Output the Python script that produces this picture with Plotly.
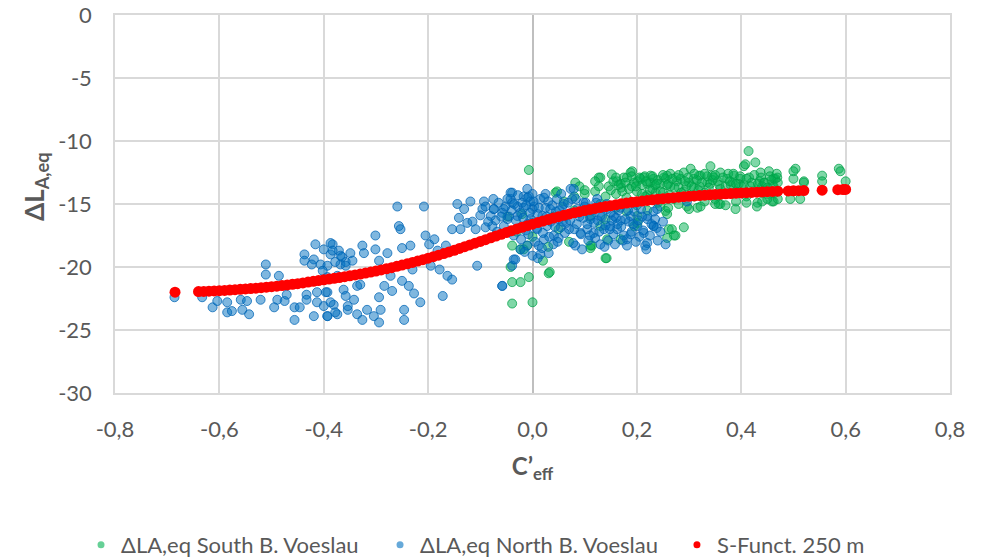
import plotly.graph_objects as go

# ---------------- data ----------------
south_x = [-0.007, 0.0, -0.023, -0.007, 0.033, 0.044, 0.111, 0.142, 0.13, 0.127, 0.146, 0.162, 0.169, 0.191,
           0.181, 0.201, 0.213, 0.22, 0.232, 0.245, 0.252, 0.264, 0.277, 0.29, 0.303, 0.309, 0.322, 0.341,
           0.347, 0.36, 0.373, 0.386, 0.405, 0.414, 0.427, 0.437, 0.453, 0.462, 0.469, 0.504, 0.5, 0.52,
           0.555, 0.555, 0.587, 0.59, 0.6, 0.513, 0.494, 0.462, 0.389, 0.36, 0.316, 0.296, 0.258, 0.255,
           0.29, 0.258, 0.267, 0.274, 0.201, 0.201, 0.169, 0.143, 0.114, -0.023, -0.01,
           -0.039, -0.042, -0.039, 0.031, 0.047, 0.111, 0.14, 0.127, 0.152, 0.082, 0.13, 0.188, 0.226,
           0.195, -0.017, -0.039, -0.048,
           0.207, 0.226, 0.236, 0.258, 0.264, 0.284, 0.309, 0.319, 0.322, 0.335, 0.344, 0.357, 0.383,
           0.398, 0.408, 0.431, 0.443, 0.459, 0.465, 0.5, 0.52, 0.261, 0.271, 0.245, 0.216,
           0.15, 0.16, 0.17, 0.18, 0.19, 0.2, 0.21, 0.22, 0.23, 0.24, 0.25, 0.26, 0.27, 0.28, 0.29, 0.3,
           0.31, 0.32, 0.33, 0.34, 0.35, 0.36, 0.37, 0.38, 0.39, 0.4, 0.41, 0.42, 0.43, 0.44, 0.45, 0.46, 0.465,
           0.155, 0.175, 0.195, 0.215, 0.235, 0.255, 0.275, 0.295, 0.315, 0.335, 0.355, 0.375, 0.395,
           0.415, 0.435, 0.455,
           0.16, 0.2, 0.24, 0.28, 0.33, 0.37, 0.41, 0.45, 0.22, 0.3, 0.43,
           0.06, 0.08, 0.1, 0.12, 0.09, 0.14, 0.11, 0.13, 0.05, 0.07, 0.02, 0.0, -0.03, 0.04, -0.02, 0.03,
           0.16, 0.165, 0.172, 0.178, 0.185, 0.19, 0.198, 0.205, 0.21, 0.218, 0.225, 0.23, 0.238, 0.245,
           0.25, 0.258, 0.262, 0.268, 0.272, 0.28, 0.285, 0.292, 0.298, 0.305, 0.31, 0.318, 0.325, 0.33,
           0.338, 0.345, 0.35, 0.358, 0.365, 0.37, 0.378, 0.385, 0.39, 0.398, 0.405, 0.41, 0.418, 0.425,
           0.432, 0.438, 0.445, 0.45, 0.458, 0.462, 0.468, 0.47,
           0.18, 0.26, 0.35, 0.39, 0.44, 0.47, 0.14, 0.12, 0.1, 0.08]
south_y = [-12.3, -22.8, -21.2, -20.8, -20.4, -14.1, -18.5, -19.3, -12.9, -13.6, -13.6, -13.2, -13.4, -12.4,
           -12.9, -13.2, -12.9, -13.4, -13.0, -13.4, -12.9, -12.6, -13.2, -12.5, -12.2, -13.0, -12.75, -12.0,
           -12.9, -12.5, -13.0, -12.75, -12.0, -10.8, -11.7, -12.5, -12.4, -13.0, -12.9, -12.2, -13.0, -13.2,
           -12.75, -13.2, -12.2, -12.4, -13.2, -14.6, -14.6, -14.8, -15.4, -15.0, -15.3, -15.2, -15.8, -15.55,
           -16.85, -17.7, -17.0, -17.5, -16.5, -15.95, -17.8, -17.8, -18.3, -18.6, -18.3,
           -22.9, -20.0, -18.3, -20.5, -14.0, -18.3, -19.3, -12.9, -12.65, -13.3, -16.75, -12.5, -12.75,
           -16.75, -18.6, -21.2, -16.0,
           -13.0, -13.3, -14.1, -12.75, -13.6, -13.0, -13.7, -12.75, -15.2, -13.3, -12.75, -15.0, -13.3,
           -13.0, -11.85, -14.9, -13.3, -14.8, -13.0, -12.4, -13.3, -17.0, -17.5, -15.2, -14.4,
           -13.9, -14.2, -13.7, -14.5, -13.6, -14.0, -13.5, -14.3, -13.8, -13.1, -14.1, -13.4, -14.6, -13.7,
           -14.0, -13.3, -14.4, -13.6, -14.1, -13.4, -14.6, -13.8, -14.2, -13.5, -14.0, -13.6, -14.4, -13.3,
           -13.9, -13.6, -14.2, -13.5, -14.1,
           -13.2, -12.9, -13.3, -12.8, -13.5, -13.0, -12.9, -13.6, -13.1, -12.8, -13.2, -12.6, -13.4,
           -12.9, -13.2, -12.8,
           -15.3, -15.1, -14.9, -15.0, -14.8, -15.1, -14.9, -14.6, -15.5, -15.4, -15.2,
           -14.8, -15.5, -14.2, -14.0, -13.6, -14.4, -16.0, -15.0, -17.0, -18.0, -19.5, -17.6, -17.2, -16.0,
           -15.8, -18.4,
           -12.9, -13.5, -14.0, -13.3, -13.8, -12.8, -13.6, -12.9, -14.2, -13.2, -13.9, -12.8, -13.4, -14.0,
           -12.7, -13.5, -14.3, -13.0, -13.7, -12.7, -14.1, -13.2, -12.9, -13.6, -12.6, -13.9, -13.3, -12.6,
           -13.7, -13.1, -12.7, -13.5, -12.9, -13.6, -13.2, -12.6, -13.4, -12.8, -13.5, -13.0, -13.6, -12.7,
           -13.4, -12.9, -13.3, -13.7, -13.1, -13.6, -12.6, -13.3,
           -15.6, -15.3, -15.0, -14.8, -14.8, -14.6, -16.2, -13.2, -13.9, -14.4]

north_x = [-0.686, -0.633, -0.613, -0.604, -0.585, -0.585, -0.576, -0.559, -0.556, -0.547, -0.543, -0.521,
           -0.511, -0.511, -0.495, -0.489, -0.486, -0.475, -0.471, -0.456, -0.456, -0.446, -0.433, -0.437,
           -0.433, -0.419, -0.413, -0.413, -0.416, -0.419, -0.4, -0.393, -0.393, -0.383, -0.387, -0.381,
           -0.374, -0.371, -0.368, -0.362, -0.358, -0.354, -0.365, -0.423, -0.406, -0.437, -0.393,
           -0.387, -0.383, -0.4, -0.402, -0.393, -0.378, -0.374, -0.368, -0.358, -0.349, -0.345, -0.326,
           -0.323, -0.336, -0.33, -0.396, -0.387, -0.378, -0.393, -0.358, -0.354, -0.342, -0.336, -0.326,
           -0.317, -0.304, -0.294, -0.301, -0.301, -0.294, -0.294, -0.284, -0.291, -0.278, -0.272, -0.269,
           -0.259, -0.256, -0.253, -0.25, -0.246, -0.246, -0.25, -0.234, -0.23, -0.237, -0.227, -0.215,
           -0.208, -0.205, -0.198, -0.188, -0.182, -0.178, -0.172, -0.195, -0.166, -0.163, -0.154, -0.154,
           -0.144, -0.141, -0.138, -0.131, -0.125, -0.119, -0.115, -0.109, -0.106, -0.096, -0.093, -0.09,
           -0.08, -0.074, -0.077, -0.071, -0.058, -0.055, -0.048, -0.039, -0.042, -0.036, -0.039, -0.029,
           -0.023, -0.017, -0.01, -0.004,
           -0.074, -0.071, -0.058, -0.055, -0.042, -0.039, -0.036, -0.033, -0.029, -0.023, -0.017, -0.013,
           -0.01, -0.007, -0.004, 0.0, 0.003, 0.009, 0.012, 0.015, 0.019, 0.022, 0.025, 0.028, 0.031, 0.034,
           0.041, 0.047, 0.05, 0.054, 0.057, 0.063, 0.07, 0.073, 0.076, 0.082, 0.086, 0.092, 0.098, 0.105,
           0.111, 0.117, 0.124, 0.13, 0.137, 0.143, 0.149, 0.156, 0.162, 0.169, 0.181, 0.181, 0.188, 0.201,
           0.213, 0.216, 0.22, 0.232, -0.058, 0.079, 0.22, 0.232, 0.22, 0.239, 0.296,
           -0.02, -0.01, 0.0, 0.005, 0.01, 0.02, 0.03, 0.035, 0.045, 0.05, 0.06, 0.065, 0.075, 0.08, 0.09,
           0.1, 0.105, 0.115, 0.12, 0.125, 0.135, 0.14, 0.15, 0.155, 0.165, 0.17, 0.175, 0.185, 0.19, 0.195,
           0.205, 0.21, 0.225, 0.235, 0.24, -0.045, -0.035, -0.025, -0.015, -0.005, 0.015, 0.025, 0.04,
           0.055, 0.07, 0.085, 0.095, 0.11, 0.13, 0.145, 0.16, 0.0, -0.01, 0.01,
           -0.048, -0.044, -0.04, -0.032, -0.028, -0.022, -0.018, -0.012, -0.008, -0.002, 0.002, 0.008,
           0.012, 0.018, 0.022, 0.027, 0.032, 0.038, 0.043, 0.048, 0.052, 0.058, 0.062, 0.068, 0.072, 0.078,
           0.083, 0.088, 0.093, 0.097, 0.102, 0.107, 0.112, 0.118, 0.122, 0.128, 0.133, 0.138, 0.142, 0.148,
           0.152, 0.158, 0.163, 0.168, 0.173, 0.178, 0.183, 0.188, 0.193, 0.198, 0.203, 0.208, 0.212, 0.218,
           0.228, 0.232, 0.238, 0.245, 0.25, 0.255,
           -0.1, -0.09, -0.085, -0.065, -0.06, -0.052, -0.068, -0.075]
north_y = [-22.4, -22.4, -23.2, -22.7, -22.8, -23.6, -23.5, -22.6, -23.4, -22.7, -23.75, -22.6,
           -19.8, -20.6, -23.2, -22.6, -20.7, -22.7, -22.2, -23.2, -24.2, -23.2, -22.2, -19.0,
           -22.6, -23.9, -22.0, -22.8, -18.2, -19.4, -23.1, -22.0, -23.9, -18.2, -19.0, -23.0,
           -23.75, -18.7, -19.8, -21.8, -19.6, -23.4, -19.2, -19.8, -19.8, -19.5, -19.9,
           -18.1, -18.7, -18.6, -20.3, -20.8, -19.6, -20.7, -19.1, -19.9, -18.9, -19.5, -18.3,
           -18.9, -21.5, -21.4, -22.0, -22.8, -23.6, -23.9, -22.3, -23.1, -22.6, -23.75, -24.2,
           -23.4, -23.9, -24.4, -17.5, -18.6, -19.5, -22.4, -21.5, -23.4, -18.9, -20.7, -21.9,
           -15.2, -16.75, -17.0, -18.5, -23.4, -24.2, -21.1, -18.3, -20.2, -21.5, -22.1, -22.8,
           -15.2, -17.5, -18.2, -17.8, -18.7, -20.2, -22.3, -19.9, -18.3, -20.7, -17.0, -21.0,
           -15.0, -16.1, -17.0, -15.4, -16.5, -14.8, -16.4, -17.0, -19.9, -15.4, -14.8, -16.85,
           -15.95, -15.4, -16.75, -17.5, -21.5, -15.4, -16.2, -14.1, -14.6, -19.4, -19.9, -15.2,
           -15.7, -14.4, -13.8, -14.8,
           -15.4, -16.3, -15.7, -16.75, -14.1, -14.9, -17.5, -19.4, -15.95, -18.6, -15.3, -17.1,
           -18.3, -14.4, -16.2, -19.1, -15.2, -17.0, -18.3, -14.6, -15.95, -17.8, -14.2, -16.75, -18.9, -15.4,
           -17.5, -14.6, -16.2, -16.85, -15.2, -15.95, -17.0, -13.8, -14.6, -18.3, -15.4, -17.3, -14.9, -17.0,
           -16.2, -17.3, -14.6, -15.95, -17.0, -15.4, -16.75, -15.95, -17.0, -16.3, -17.8, -18.3, -15.95, -16.75,
           -17.3, -18.3, -16.2, -16.75, -21.5, -13.8, -15.95, -16.75, -18.1, -15.4, -14.8,
           -14.9, -16.6, -15.4, -18.0, -15.8, -17.3, -14.8, -16.4, -15.6, -17.7, -15.0, -16.5, -15.7, -17.0, -16.0,
           -15.2, -16.6, -15.5, -17.7, -16.3, -15.2, -16.7, -15.7, -17.4, -15.5, -16.8, -17.5, -16.4, -17.2, -15.6,
           -17.6, -16.0, -17.5, -16.2, -17.9, -16.0, -15.0, -16.9, -18.8, -15.7, -19.0, -15.3, -18.2,
           -14.2, -15.8, -16.6, -18.6, -17.5, -18.2, -17.9, -16.1, -14.2, -14.5, -19.3,
           -14.6, -17.2, -15.5, -16.3, -14.3, -17.8, -16.1, -15.1, -17.4, -16.5, -14.8, -16.9,
           -15.3, -18.5, -14.5, -16.0, -17.6, -15.1, -16.8, -18.0, -15.5, -16.4, -17.3, -14.9, -16.3, -18.1,
           -14.6, -15.7, -17.4, -16.1, -14.9, -17.9, -15.9, -16.5, -14.9, -17.2, -16.0, -18.4, -15.0, -17.0,
           -16.3, -18.2, -16.6, -15.3, -17.9, -16.2, -15.5, -17.4, -16.6, -18.0, -16.3, -15.4, -17.1, -18.6,
           -16.6, -15.6, -16.9, -17.2, -16.4, -18.2,
           -15.9, -15.2, -16.4, -14.9, -16.0, -15.2, -17.2, -14.6]

sfunc_x = [-0.685, -0.64, -0.63, -0.62, -0.61, -0.60, -0.59, -0.58, -0.57, -0.56, -0.55, -0.54, -0.53,
           -0.52, -0.51, -0.50, -0.49, -0.48, -0.47, -0.46, -0.45, -0.44, -0.43, -0.42, -0.41, -0.40,
           -0.39, -0.38, -0.37, -0.36, -0.35, -0.34, -0.33, -0.32, -0.31, -0.30, -0.29, -0.28, -0.27,
           -0.26, -0.25, -0.24, -0.23, -0.22, -0.21, -0.20, -0.19, -0.18, -0.17, -0.16, -0.15, -0.14,
           -0.13, -0.12, -0.11, -0.10, -0.09, -0.08, -0.07, -0.06, -0.05, -0.04, -0.03, -0.02, -0.01,
           0.00, 0.01, 0.02, 0.03, 0.04, 0.05, 0.06, 0.07, 0.08, 0.09, 0.10, 0.11, 0.12, 0.13, 0.14,
           0.15, 0.16, 0.17, 0.18, 0.19, 0.20, 0.21, 0.22, 0.23, 0.24, 0.25, 0.26, 0.27, 0.28, 0.29,
           0.30, 0.31, 0.32, 0.33, 0.34, 0.35, 0.36, 0.37, 0.38, 0.39, 0.40, 0.41, 0.42, 0.43, 0.44,
           0.45, 0.46, 0.47, 0.49, 0.50, 0.51, 0.52, 0.555, 0.585, 0.595, 0.60]
sfunc_y = [-22.0, -21.95, -21.94, -21.92, -21.9, -21.88, -21.86, -21.83, -21.8, -21.77, -21.74, -21.71,
           -21.68, -21.64, -21.6, -21.56, -21.52, -21.47, -21.42, -21.37, -21.32, -21.26, -21.2, -21.14,
           -21.08, -21.02, -20.96, -20.9, -20.84, -20.77, -20.7, -20.63, -20.56, -20.48, -20.4, -20.32,
           -20.23, -20.14, -20.05, -19.95, -19.85, -19.75, -19.64, -19.53, -19.42, -19.3, -19.18, -19.06,
           -18.93, -18.8, -18.67, -18.53, -18.39, -18.25, -18.11, -17.97, -17.83, -17.68, -17.54, -17.4,
           -17.26, -17.12, -16.98, -16.85, -16.72, -16.6, -16.47, -16.35, -16.23, -16.12, -16.01, -15.9,
           -15.8, -15.7, -15.61, -15.52, -15.43, -15.35, -15.27, -15.2, -15.13, -15.06, -14.99, -14.93,
           -14.87, -14.82, -14.77, -14.72, -14.67, -14.62, -14.58, -14.54, -14.5, -14.46, -14.42, -14.39,
           -14.36, -14.33, -14.3, -14.27, -14.24, -14.22, -14.19, -14.17, -14.14, -14.12, -14.1, -14.08,
           -14.06, -14.04, -14.02, -14.0, -13.98, -13.96, -13.95, -13.94, -13.93, -13.9, -13.86, -13.85,
           -13.84]

x_ticks = [-0.8, -0.6, -0.4, -0.2, 0.0, 0.2, 0.4, 0.6, 0.8]
x_tick_labels = ["-0,8", "-0,6", "-0,4", "-0,2", "0,0", "0,2", "0,4", "0,6", "0,8"]
y_ticks = [0, -5, -10, -15, -20, -25, -30]
y_tick_labels = ["0", "-5", "-10", "-15", "-20", "-25", "-30"]

series_names = ["ΔLA,eq South B. Voeslau", "ΔLA,eq North B. Voeslau", "S-Funct. 250 m"]
y_title = "<b>ΔL<sub>A,eq</sub></b>"
x_title = "<b>C’<sub>eff</sub></b>"

# ---------------- figure ----------------
FONT = "Lato"
GREY = "#595959"
GRID = "#d9d9d9"
GREEN_FILL, GREEN_LINE = "rgba(0,176,80,0.5)", "rgba(0,160,72,0.75)"
BLUE_FILL, BLUE_LINE = "rgba(0,112,192,0.5)", "rgba(0,100,180,0.75)"
RED = "#FF0000"

fig = go.Figure()
fig.add_trace(go.Scatter(
    x=south_x, y=south_y, mode="markers", name=series_names[0], showlegend=False,
    marker=dict(size=9, color=GREEN_FILL, line=dict(width=1, color=GREEN_LINE))))
fig.add_trace(go.Scatter(
    x=north_x, y=north_y, mode="markers", name=series_names[1], showlegend=False,
    marker=dict(size=9, color=BLUE_FILL, line=dict(width=1, color=BLUE_LINE))))
fig.add_trace(go.Scatter(
    x=sfunc_x, y=sfunc_y, mode="markers", name=series_names[2], showlegend=False,
    marker=dict(size=11, color=RED, line=dict(width=0))))

# legend entries with small dots, one legend box per entry for Excel-like spacing
legend_ids = ["legend", "legend2", "legend3"]
legend_x = [-0.0407, 0.3174, 0.673]
for name, col, lid in zip(series_names, ["rgba(0,176,80,0.6)", "rgba(0,112,192,0.6)", RED], legend_ids):
    fig.add_trace(go.Scatter(x=[None], y=[None], mode="markers", name=name, legend=lid,
                             marker=dict(size=7, color=col)))

legend_style = dict(orientation="h", xref="paper", yref="paper", xanchor="left",
                    y=-0.402, yanchor="middle", font=dict(size=22, color=GREY),
                    itemwidth=30, bgcolor="rgba(0,0,0,0)")

fig.update_layout(
    width=984, height=560,
    margin=dict(l=107, r=42, t=7, b=175, autoexpand=False),
    paper_bgcolor="white", plot_bgcolor="white",
    font=dict(family=FONT, size=22, color=GREY),
    showlegend=True,
    legend=dict(x=legend_x[0], **legend_style),
    legend2=dict(x=legend_x[1], **legend_style),
    legend3=dict(x=legend_x[2], **legend_style),
    annotations=[dict(text=y_title, textangle=-90, xref="paper", yref="paper",
                      x=-0.0946, y=0.545, xanchor="center", yanchor="middle", showarrow=False,
                      font=dict(size=26, color=GREY, family=FONT))],
)

fig.update_xaxes(
    range=[-0.8, 0.8], tickvals=x_ticks, ticktext=x_tick_labels, automargin=False,
    showgrid=True, gridcolor=GRID, gridwidth=1.5,
    zeroline=True, zerolinecolor="#bfbfbf", zerolinewidth=2,
    showline=True, mirror=True, linecolor=GRID, linewidth=1.5,
    ticks="outside", ticklen=16, tickcolor="rgba(0,0,0,0)",
    tickfont=dict(size=22, color=GREY), ticklabeloverflow="allow",
    title=dict(text=x_title, font=dict(size=24, color=GREY), standoff=17),
)
fig.update_yaxes(
    range=[-30, 0], tickvals=y_ticks, ticktext=y_tick_labels, automargin=False,
    showgrid=True, gridcolor=GRID, gridwidth=1.5,
    zeroline=False, showline=True, mirror=True, linecolor=GRID, linewidth=1.5,
    ticks="outside", ticklen=17, tickcolor="rgba(0,0,0,0)",
    tickfont=dict(size=22, color=GREY), ticklabeloverflow="allow",
)

fig.write_html("out.html")
